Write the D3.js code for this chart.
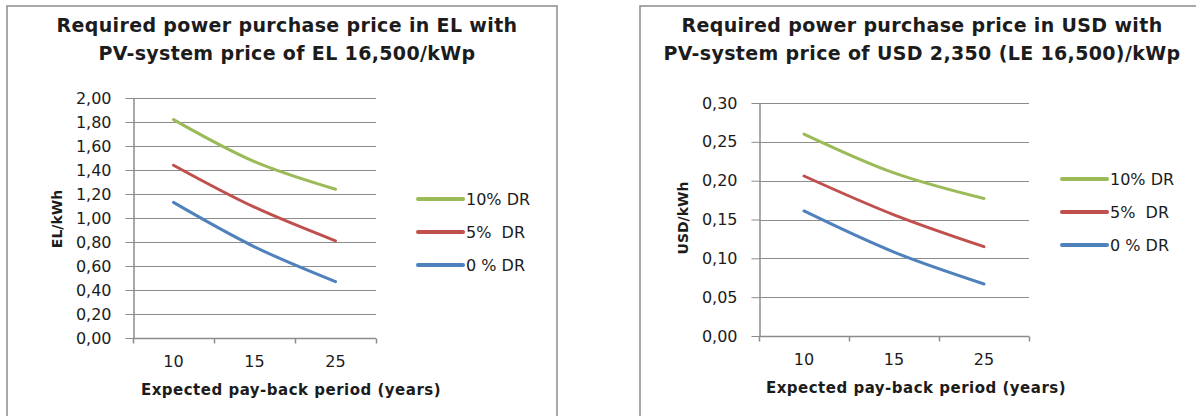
<!DOCTYPE html>
<html>
<head>
<meta charset="utf-8">
<script src="https://cdn.jsdelivr.net/npm/d3@7/dist/d3.min.js"></script>
<style>
  html, body { margin: 0; padding: 0; background: #fff; }
  svg { display: block; }
  text { font-family: "DejaVu Sans", Verdana, sans-serif; fill: #1c1c1c; }
</style>
</head>
<body>
<svg id="chart" width="1196" height="416"></svg>
<script>
// Pay-back periods (years) on the category axis
const periods = ["10", "15", "25"];

// Series names and colours
const seriesNames = ["10% DR", "5%  DR", "0 % DR"];
const seriesColors = ["#9BBB59", "#C0504D", "#4F81BD"];

// Required purchase price in EL/kWh
const elDr10 = [1.82, 1.47, 1.24];
const elDr5 = [1.44, 1.09, 0.81];
const elDr0 = [1.13, 0.76, 0.47];

// Required purchase price in USD/kWh
const usdDr10 = [0.260, 0.210, 0.177];
const usdDr5 = [0.206, 0.156, 0.115];
const usdDr0 = [0.161, 0.108, 0.067];

// Y tick values
const elTicks = [0, 0.2, 0.4, 0.6, 0.8, 1.0, 1.2, 1.4, 1.6, 1.8, 2.0];
const usdTicks = [0, 0.05, 0.10, 0.15, 0.20, 0.25, 0.30];

const commaLocale = d3.formatLocale({ decimal: ",", thousands: ".", grouping: [3], currency: ["", ""] });
const fmt2 = commaLocale.format(".2f");

const svg = d3.select("#chart");

function drawPanel(p) {
  const g = svg.append("g");

  // outer frame
  g.append("rect")
    .attr("x", p.frame[0]).attr("y", p.frame[1])
    .attr("width", p.frame[2]).attr("height", p.frame[3])
    .attr("fill", "#fff").attr("stroke", "#8c8c8c").attr("stroke-width", 1.5);

  // title
  const title = g.append("text")
    .attr("x", p.titleX).attr("y", 32)
    .attr("text-anchor", "middle")
    .style("font-size", "19px").style("font-weight", "bold")
    .style("letter-spacing", "0.35px");
  title.append("tspan").attr("x", p.titleX).attr("dy", 0).text(p.title[0]);
  title.append("tspan").attr("x", p.titleX).attr("dy", 28).text(p.title[1]);

  const x = d3.scaleBand().domain(periods).range(p.xRange).padding(0);
  const y = d3.scaleLinear().domain(p.yDomain).range(p.yRange);
  const [x0, x1] = p.xRange;

  // horizontal gridlines
  g.append("g").selectAll("line").data(p.ticks.slice(1)).join("line")
    .attr("x1", x0).attr("x2", x1)
    .attr("y1", d => Math.round(y(d)) + 0.5).attr("y2", d => Math.round(y(d)) + 0.5)
    .attr("stroke", "#8c8c8c").attr("stroke-width", 1);

  // y axis
  const yAxis = g.append("g")
    .attr("transform", `translate(${x0 + 0.5},0)`)
    .call(d3.axisLeft(y).tickValues(p.ticks).tickFormat(fmt2).tickSize(8).tickSizeOuter(0).tickPadding(14));
  yAxis.select(".domain").attr("stroke", "#8c8c8c").attr("stroke-width", 1.5);
  yAxis.selectAll(".tick line").attr("stroke", "#8c8c8c");
  yAxis.selectAll(".tick text").style("font-size", "16px").attr("fill", "#1c1c1c");

  // x axis: ticks on category boundaries
  const yBase = Math.round(y(0)) + 0.5;
  g.append("line").attr("x1", x0).attr("x2", x1).attr("y1", yBase).attr("y2", yBase)
    .attr("stroke", "#8c8c8c").attr("stroke-width", 1.5);
  const bounds = periods.map(c => x(c)).concat([x1]);
  g.append("g").selectAll("line").data(bounds).join("line")
    .attr("x1", d => Math.round(d) + 0.5).attr("x2", d => Math.round(d) + 0.5)
    .attr("y1", yBase).attr("y2", yBase + 5)
    .attr("stroke", "#8c8c8c").attr("stroke-width", 1.5);
  g.append("g").selectAll("text").data(periods).join("text")
    .attr("x", d => x(d) + x.bandwidth() / 2)
    .attr("y", yBase + 28)
    .attr("text-anchor", "middle")
    .style("font-size", "16px")
    .text(d => d);

  // axis titles
  g.append("text")
    .attr("x", p.xTitleX).attr("y", p.xTitleY)
    .attr("text-anchor", "middle")
    .style("font-size", "15px").style("font-weight", "bold")
    .style("letter-spacing", "0.5px")
    .text("Expected pay-back period (years)");
  g.append("text")
    .attr("transform", `translate(${p.yTitle[0]},${p.yTitle[1]}) rotate(-90)`)
    .attr("text-anchor", "middle")
    .attr("dy", "0.35em")
    .style("font-size", "14px").style("font-weight", "bold")
    .text(p.yLabel);

  // series lines
  const line = d3.line()
    .x((d, i) => x(periods[i]) + x.bandwidth() / 2)
    .y(d => y(d))
    .curve(d3.curveCatmullRom.alpha(0.5));
  p.series.forEach((vals, i) => {
    g.append("path")
      .datum(vals)
      .attr("d", line)
      .attr("fill", "none")
      .attr("stroke", seriesColors[i])
      .attr("stroke-width", 3)
      .attr("stroke-linecap", "round");
  });

  // legend
  const leg = g.append("g");
  seriesNames.forEach((name, i) => {
    const ly = p.legend[1] + i * 33;
    leg.append("line")
      .attr("x1", p.legend[0]).attr("x2", p.legend[0] + 45)
      .attr("y1", ly).attr("y2", ly)
      .attr("stroke", seriesColors[i]).attr("stroke-width", 4)
      .attr("stroke-linecap", "round");
    leg.append("text")
      .attr("x", p.legend[0] + 48).attr("y", ly)
      .attr("dy", "0.35em")
      .style("font-size", "16px")
      .style("white-space", "pre")
      .attr("xml:space", "preserve")
      .text(name);
  });
}

drawPanel({
  frame: [7, 6, 550, 420],
  title: ["Required power purchase price in EL with", "PV-system price of EL 16,500/kWp"],
  titleX: 287,
  xRange: [133, 376],
  yDomain: [0, 2],
  yRange: [338, 98],
  ticks: elTicks,
  series: [elDr10, elDr5, elDr0],
  xTitleX: 291, xTitleY: 395,
  yTitle: [57, 219],
  yLabel: "EL/kWh",
  legend: [418, 199]
});

drawPanel({
  frame: [640, 6, 600, 420],
  title: ["Required power purchase price in USD with", "PV-system price of USD 2,350 (LE 16,500)/kWp"],
  titleX: 922,
  xRange: [759, 1029],
  yDomain: [0, 0.3],
  yRange: [336, 103],
  ticks: usdTicks,
  series: [usdDr10, usdDr5, usdDr0],
  xTitleX: 916, xTitleY: 393,
  yTitle: [683, 218],
  yLabel: "USD/kWh",
  legend: [1062, 179]
});
</script>
</body>
</html>
